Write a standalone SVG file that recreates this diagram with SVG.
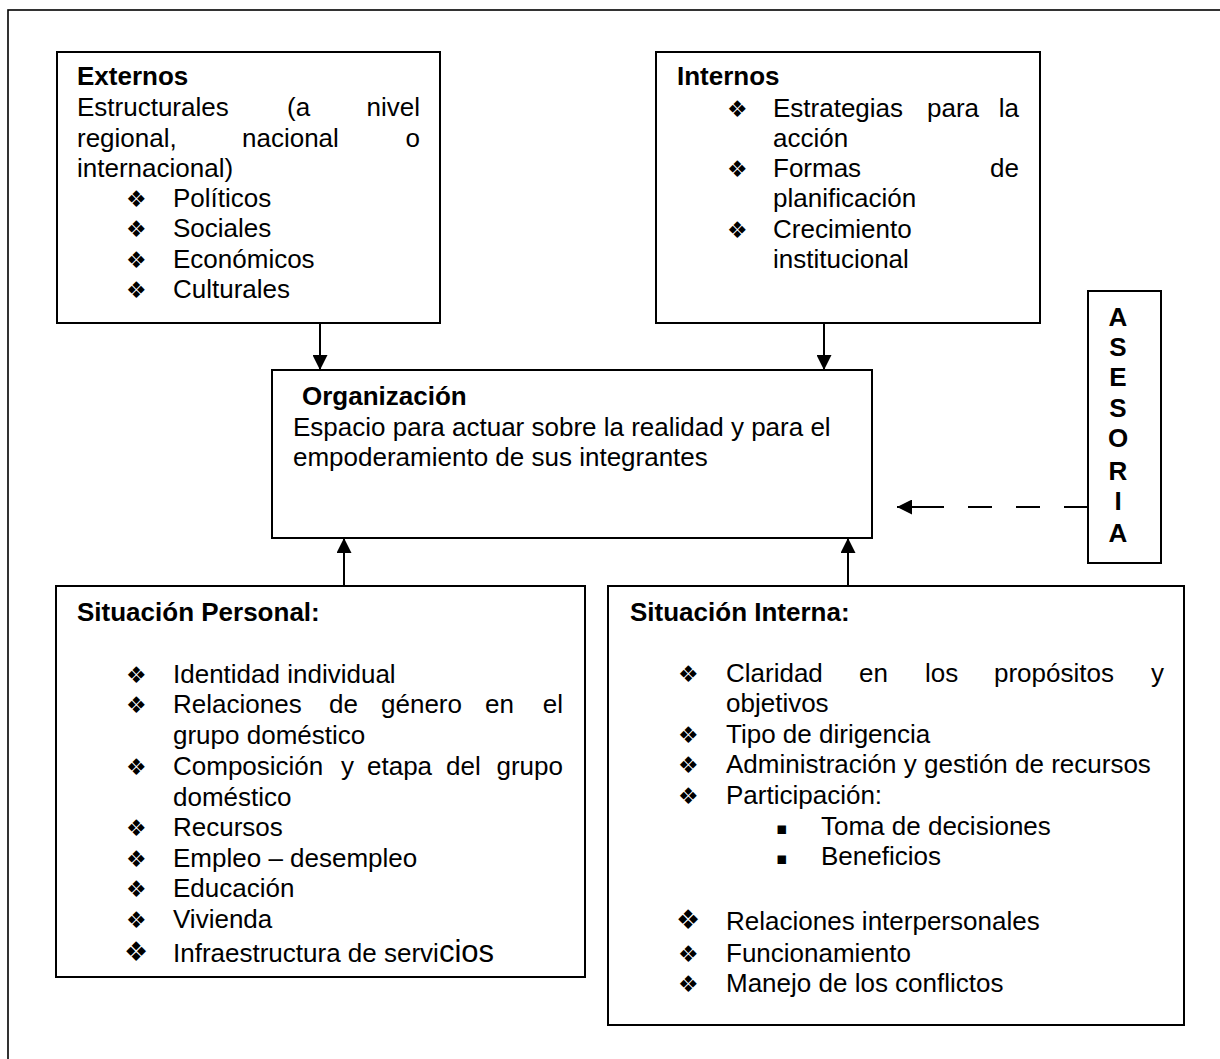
<svg xmlns="http://www.w3.org/2000/svg" width="1220" height="1059" viewBox="0 0 1220 1059">
<style>
.frame{fill:none;stroke:#000;stroke-width:1.6}
.box{fill:#fff;stroke:#000;stroke-width:2}
.t{font-family:"Liberation Sans",Arial,sans-serif;font-size:26px;fill:#000}
.b{font-weight:bold}
.bul{font-family:"DejaVu Sans",sans-serif;font-size:23px;fill:#000}
.big{font-size:27px}
.sq{font-family:"DejaVu Sans",sans-serif;font-size:17px;fill:#000}
.con{stroke:#000;stroke-width:2;fill:none}
</style>
<defs>
<marker id="ah" markerUnits="userSpaceOnUse" markerWidth="16" markerHeight="15" refX="15" refY="7.5" orient="auto">
<path d="M0,0 L15,7.5 L0,15 Z" fill="#000"/>
</marker>
</defs>
<rect class="frame" x="8" y="10" width="1300" height="1100"/>

<g id="connectors">
<line class="con" x1="320" y1="323" x2="320" y2="370" marker-end="url(#ah)"/>
<line class="con" x1="824" y1="323" x2="824" y2="370" marker-end="url(#ah)"/>
<line class="con" x1="344" y1="586" x2="344" y2="538" marker-end="url(#ah)"/>
<line class="con" x1="848" y1="586" x2="848" y2="538" marker-end="url(#ah)"/>
<line class="con" x1="1088" y1="507" x2="897" y2="507" stroke-dasharray="24 24 24 24 24 24 47" marker-end="url(#ah)"/>
</g>

<g id="externos">
<rect class="box" x="57" y="52" width="383" height="271"/>
<text class="t b" x="77" y="85">Externos</text>
<text class="t" x="77" y="116">Estructurales</text>
<text class="t" x="287" y="116">(a</text>
<text class="t" x="420" y="116" text-anchor="end">nivel</text>
<text class="t" x="77" y="147">regional,</text>
<text class="t" x="242" y="147">nacional</text>
<text class="t" x="420" y="147" text-anchor="end">o</text>
<text class="t" x="77" y="177">internacional)</text>
<text class="bul" x="126" y="207">❖</text><text class="t" x="173" y="207">Políticos</text>
<text class="bul" x="126" y="237">❖</text><text class="t" x="173" y="237">Sociales</text>
<text class="bul" x="126" y="268">❖</text><text class="t" x="173" y="268">Económicos</text>
<text class="bul" x="126" y="298">❖</text><text class="t" x="173" y="298">Culturales</text>
</g>

<g id="internos">
<rect class="box" x="656" y="52" width="384" height="271"/>
<text class="t b" x="677" y="85">Internos</text>
<text class="bul" x="727" y="117">❖</text>
<text class="t" x="773" y="117">Estrategias</text>
<text class="t" x="927" y="117">para</text>
<text class="t" x="1019" y="117" text-anchor="end">la</text>
<text class="t" x="773" y="147">acción</text>
<text class="bul" x="727" y="177">❖</text>
<text class="t" x="773" y="177">Formas</text>
<text class="t" x="1019" y="177" text-anchor="end">de</text>
<text class="t" x="773" y="207">planificación</text>
<text class="bul" x="727" y="238">❖</text>
<text class="t" x="773" y="238">Crecimiento</text>
<text class="t" x="773" y="268">institucional</text>
</g>

<g id="organizacion">
<rect class="box" x="272" y="370" width="600" height="168"/>
<text class="t b" x="302" y="405">Organización</text>
<text class="t" x="293" y="436">Espacio para actuar sobre la realidad y para el</text>
<text class="t" x="293" y="466">empoderamiento de sus integrantes</text>
</g>

<g id="asesoria">
<rect class="box" x="1088" y="291" width="73" height="272"/>
<g class="t b" text-anchor="middle">
<text x="1118" y="326">A</text>
<text x="1118" y="356">S</text>
<text x="1118" y="386">E</text>
<text x="1118" y="417">S</text>
<text x="1118" y="447">O</text>
<text x="1118" y="480">R</text>
<text x="1118" y="510">I</text>
<text x="1118" y="542">A</text>
</g>
</g>

<g id="situacion-personal">
<rect class="box" x="56" y="586" width="529" height="391"/>
<text class="t b" x="77" y="621">Situación Personal:</text>
<text class="bul" x="126" y="683">❖</text><text class="t" x="173" y="683">Identidad individual</text>
<text class="bul" x="126" y="713">❖</text>
<text class="t" x="173" y="713">Relaciones</text>
<text class="t" x="329" y="713">de</text>
<text class="t" x="381" y="713">género</text>
<text class="t" x="485" y="713">en</text>
<text class="t" x="563" y="713" text-anchor="end">el</text>
<text class="t" x="173" y="744">grupo doméstico</text>
<text class="bul" x="126" y="775">❖</text>
<text class="t" x="173" y="775">Composición</text>
<text class="t" x="341" y="775">y</text>
<text class="t" x="367" y="775">etapa</text>
<text class="t" x="446" y="775">del</text>
<text class="t" x="563" y="775" text-anchor="end">grupo</text>
<text class="t" x="173" y="806">doméstico</text>
<text class="bul" x="126" y="836">❖</text><text class="t" x="173" y="836">Recursos</text>
<text class="bul" x="126" y="867">❖</text><text class="t" x="173" y="867">Empleo – desempleo</text>
<text class="bul" x="126" y="897">❖</text><text class="t" x="173" y="897">Educación</text>
<text class="bul" x="126" y="928">❖</text><text class="t" x="173" y="928">Vivienda</text>
<text class="bul big" x="124" y="961">❖</text><text class="t" x="173" y="962">Infraestructura de servi<tspan style="font-size:31px">cios</tspan></text>
</g>

<g id="situacion-interna">
<rect class="box" x="608" y="586" width="576" height="439"/>
<text class="t b" x="630" y="621">Situación Interna:</text>
<text class="bul" x="678" y="682">❖</text>
<text class="t" x="726" y="682">Claridad</text>
<text class="t" x="859" y="682">en</text>
<text class="t" x="925" y="682">los</text>
<text class="t" x="994" y="682">propósitos</text>
<text class="t" x="1164" y="682" text-anchor="end">y</text>
<text class="t" x="726" y="712">objetivos</text>
<text class="bul" x="678" y="743">❖</text><text class="t" x="726" y="743">Tipo de dirigencia</text>
<text class="bul" x="678" y="773">❖</text><text class="t" x="726" y="773">Administración y gestión de recursos</text>
<text class="bul" x="678" y="804">❖</text><text class="t" x="726" y="804">Participación:</text>
<text class="sq" x="776" y="834">▪</text><text class="t" x="821" y="835">Toma de decisiones</text>
<text class="sq" x="776" y="864">▪</text><text class="t" x="821" y="865">Beneficios</text>
<text class="bul big" x="676" y="929">❖</text><text class="t" x="726" y="930">Relaciones interpersonales</text>
<text class="bul" x="678" y="962">❖</text><text class="t" x="726" y="962">Funcionamiento</text>
<text class="bul" x="678" y="992">❖</text><text class="t" x="726" y="992">Manejo de los conflictos</text>
</g>
</svg>
